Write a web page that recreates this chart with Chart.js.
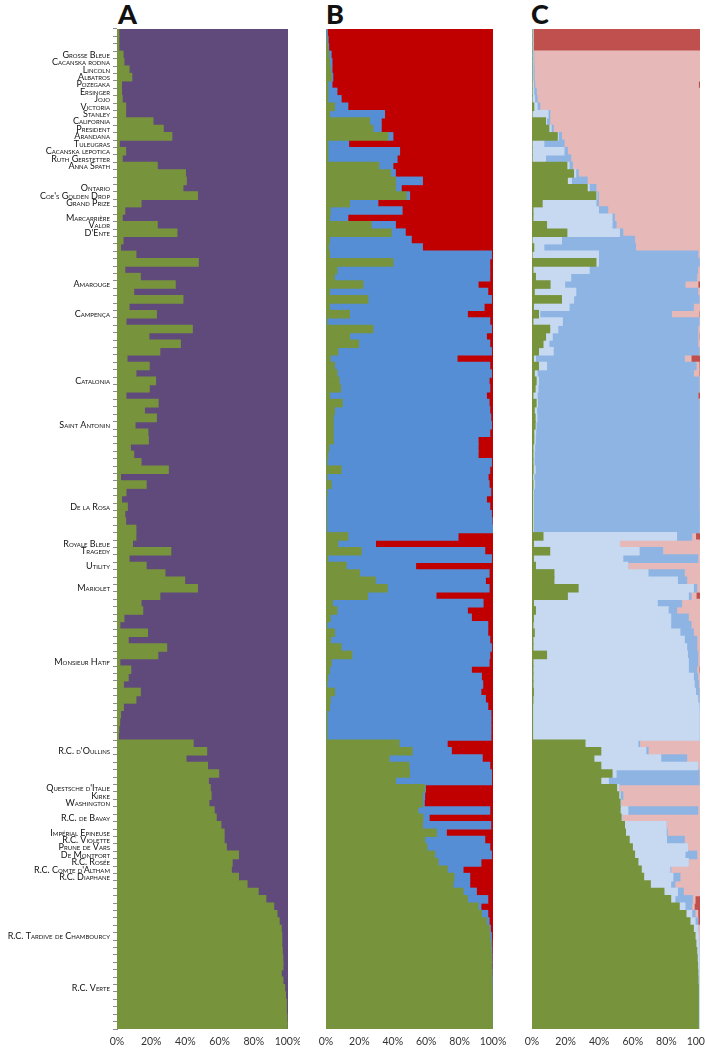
<!DOCTYPE html>
<html>
<head>
<meta charset="utf-8">
<title>Structure bars</title>
<script src="https://cdn.jsdelivr.net/npm/chart.js@4.4.1/dist/chart.umd.min.js"></script>
<style>
  html, body { margin: 0; padding: 0; background: #fff; }
  body { width: 705px; height: 1048px; position: relative; overflow: hidden; }
  canvas { position: absolute; top: 0; }
  .letter { position: absolute; top: 0; font: 900 27px/27px "Lato", sans-serif; color: #111; }
</style>
</head>
<body>
<div class="letter" style="left:118px">A</div>
<div class="letter" style="left:326px">B</div>
<div class="letter" style="left:531px">C</div>
<canvas id="chart-a" width="300" height="1048" style="left:0;width:300px;height:1048px"></canvas>
<canvas id="chart-b" width="215" height="1048" style="left:300px;width:215px;height:1048px"></canvas>
<canvas id="chart-c" width="193" height="1048" style="left:512px;width:193px;height:1048px"></canvas>
<script>
const ROWS = 135;

// rows that carry a cultivar name (index from the top)
const namedRows = [3, 4, 5, 6, 7, 8, 9, 10, 11, 12, 13, 14, 15, 16, 17, 18, 21, 22, 23, 25, 26, 27,
  34, 38, 47, 53, 64, 69, 70, 72, 75, 85, 97, 102, 103, 104, 106, 108, 109, 110, 111, 112, 113, 114, 122, 129];
const namedLabels = ['Grosse Bleue', 'Cacanska rodna', 'Lincoln', 'Albatros', 'Pozegaka', 'Ersinger', 'Jojo',
  'Victoria', 'Stanley', 'California', 'President', 'Arandana', 'Tuleugras', 'Cacanska lepotica',
  'Ruth Gerstetter', 'Anna Spath', 'Ontario', "Coe's Golden Drop", 'Grand Prize', 'Marcarrière', 'Valor',
  "D'Ente", 'Amarouge', 'Campença', 'Catalonia', 'Saint Antonin', 'De la Rosa', 'Royale Bleue', 'Tragedy',
  'Utility', 'Mariolet', 'Monsieur Hatif', "R.C. d'Oullins", "Questsche d'Italie", 'Kirke', 'Washington',
  'R.C. de Bavay', 'Impérial Epineuse', 'R.C. Violette', 'Prune de Vars', 'De Montfort', 'R.C. Rosée',
  "R.C. Comte d'Altham", 'R.C. Diaphane', 'R.C. Tardive de Chambourcy', 'R.C. Verte'];

const xTicks = [0, 20, 40, 60, 80, 100];

// panel A: right edge of the green cluster (%)
const edgeA = [
  1, 1, 1, 3.5, 4, 7, 8.6, 2.6, 2.6, 3,
  5, 5, 21, 27, 32, 1.3, 5, 3, 23.5, 40,
  40.5, 38.5, 47, 14, 4.5, 3, 23.5, 35, 3.5, 2,
  11, 47.5, 4.5, 13.6, 34, 9.7, 38.5, 7, 23, 5.2,
  44, 18.6, 37, 25, 5.8, 18.8, 11, 22.5, 18.8, 5.2,
  24, 16, 23, 10.5, 18, 18.3, 7.8, 9.7, 14, 30,
  2, 17, 5.2, 2.6, 6, 4.5, 5, 11, 11, 9,
  31.4, 7, 17, 28, 39.5, 47, 25, 14, 15, 4,
  1.6, 17.8, 6.5, 29, 23.8, 1.6, 8, 6.5, 3.7, 13.6,
  11, 3.7, 2, 1.5, 1, 0.8, 44.5, 52.4, 40.3, 52.9,
  59.4, 53.4, 54.5, 55, 53.7, 56.8, 58, 60.7, 62.6, 62.6,
  63.9, 71, 67.3, 66.8, 71, 76, 82.5, 87, 91.6, 93.5,
  94.8, 96, 96.3, 96.3, 96.6, 96.9, 97, 96, 97, 98,
  98.5, 99, 99, 99.3, 99.5];

// panel B: end of green, end of blue (%)
const edgeB1 = [
  0, 0.3, 0.8, 1.5, 2, 2.5, 3, 1, 1, 1,
  5, 2, 26, 28, 37, 1, 1, 1, 31.5, 38.5,
  41.5, 41.5, 48, 14, 2.4, 2, 27, 39, 2, 1.5,
  2, 40, 6.5, 5, 22, 2, 25, 2, 14, 0.5,
  28, 14, 19.4, 7, 2.4, 5, 6.5, 7.8, 8.6, 2,
  9.7, 5, 4.3, 4.3, 4.3, 4.3, 1.6, 1, 0.5, 9,
  0.5, 3, 0.5, 0.3, 0.3, 0.3, 0.3, 0.3, 13, 7,
  21, 1, 12, 20, 29.4, 36.6, 24.8, 3.8, 6.5, 2.4,
  0.5, 5, 2.7, 9, 15.4, 3, 2, 1, 0.5, 5,
  2.4, 2, 0.5, 0.5, 0.5, 0.5, 43.7, 51.5, 37.7, 49.6,
  50, 41.5, 59, 57.7, 57.7, 55, 58, 57.7, 66, 59,
  60.4, 65, 67, 72.5, 76.5, 76, 82, 84.6, 91, 93,
  96, 97.6, 98, 98.6, 98.8, 99, 99, 99.2, 99.3, 99.4,
  99.4, 99.5, 99.5, 99.5, 99.5];
const edgeB2 = [
  0.8, 1.2, 1.5, 3, 3.5, 3.5, 4, 3.5, 6.5, 9,
  13, 35, 33, 33, 40, 13.5, 44, 42.5, 40, 41.5,
  57.7, 45, 50, 31, 45.5, 13, 41.5, 47.4, 51, 57.7,
  99, 98, 98, 98, 91, 96.8, 99, 94.6, 84.6, 98,
  99, 96, 98, 99, 78.4, 98, 99, 97.6, 98, 96,
  97.6, 98, 98.6, 99, 98, 91, 91, 91, 99, 98,
  97, 97.6, 98.6, 96, 98, 99, 99.4, 99.7, 79, 29.6,
  95, 99, 53.6, 97.6, 95.4, 97.6, 65.8, 94, 84.6, 87,
  96.8, 96.8, 98, 99, 98, 97.6, 87, 93, 93.8, 92.7,
  95.4, 96.8, 98.7, 98.7, 98.7, 98.7, 72.5, 75, 93.5, 98,
  99, 99, 59.5, 59, 58.8, 98, 61.7, 98.6, 72, 95,
  98, 99, 92.7, 82, 86, 86, 90, 96.8, 92.7, 96.8,
  97.6, 98.4, 99, 99.2, 99.3, 99.4, 99.4, 99.5, 99.6, 99.6,
  99.6, 99.7, 99.7, 99.7, 99.7];

// panel C: end of green, light blue, mid blue, pink (%)
const edgeC1 = [
  0, 0, 0, 0, 0, 0, 0, 0, 0, 0,
  1, 0, 8, 10, 15, 0, 0, 0, 20.7, 24.7,
  21, 32.8, 38, 6, 0.5, 0.5, 8.6, 20.7, 0, 1,
  0, 38, 0.5, 2, 10.7, 1.3, 17.5, 0.8, 3.8, 0.5,
  10.5, 8, 6.5, 3.8, 0.8, 3.8, 1.3, 2.4, 1.8, 0.5,
  2.4, 1.3, 1.8, 1.8, 1, 1, 0.5, 0.5, 0.5, 0.6,
  0.3, 0.5, 0.3, 0.3, 0.3, 0.3, 0.3, 0.3, 6.5, 0.8,
  10.5, 0.8, 2, 13, 13, 27.4, 21, 0.8, 2, 0.8,
  0.5, 1.3, 0.5, 0.5, 8.6, 0.5, 0.5, 0.5, 0.5, 0.8,
  0.5, 0.3, 0.3, 0.3, 0.3, 0.3, 31.5, 40.9, 36.8, 40.9,
  47.6, 40.9, 50.3, 51.6, 52.4, 52.4, 53, 55, 55.6, 57.8,
  59.7, 61, 63, 65, 66.4, 70.4, 78.5, 82.5, 87.6, 91.6,
  94, 96, 97, 97.5, 98, 98.3, 98.5, 98.7, 98.8, 99,
  99, 99, 99, 99, 99];
const edgeC2 = [
  0.5, 0.5, 0.5, 0.5, 0.5, 0.5, 0.5, 0.8, 1, 1.5,
  3, 9.5, 8.6, 11.3, 15.6, 7, 19, 8, 22, 26,
  23.4, 34, 38.6, 38, 39.5, 47.6, 47.6, 52, 17.5, 7,
  39.5, 39.5, 34, 23, 19.4, 26, 24.7, 22, 4.6, 18,
  15.3, 12, 10, 12.6, 2, 8.6, 3, 3.8, 3.5, 3,
  3.2, 2.7, 2.9, 2.4, 2.1, 1.9, 1.5, 1.3, 1.2, 1.9,
  1, 1.5, 0.8, 0.8, 0.8, 0.8, 0.8, 0.8, 86, 52,
  63.7, 54, 57, 69, 86.5, 96, 93, 74.5, 81, 82.5,
  82.5, 88, 90.6, 92, 92.5, 93, 93, 96, 96.5, 97.3,
  98.6, 99.4, 99.5, 99.5, 99.5, 99.5, 63, 67.7, 76.6, 98.6,
  50, 45.4, 51.6, 52.4, 52.8, 57, 53.4, 79.8, 79.8, 80,
  92.5, 91, 93, 82, 83.8, 82.5, 86.5, 85, 91, 95,
  97, 98.6, 99, 99.3, 99.4, 99.5, 99.5, 99.6, 99.6, 99.7,
  99.7, 99.7, 99.7, 99.7, 99.7];
const edgeC3 = [
  0.5, 0.5, 0.5, 1, 1, 1.2, 1.2, 1.5, 2.5, 3,
  4.6, 10.5, 10.5, 12.6, 17.5, 19, 21, 23, 24, 27.4,
  32.8, 38, 39.5, 39.5, 45, 49, 50, 54, 61, 61.6,
  98.7, 99.5, 98.5, 98, 91, 98.6, 99.4, 96, 83, 99.4,
  98.6, 98.6, 98.6, 99.4, 90.6, 97.6, 96, 99.4, 99.4, 98.6,
  99.4, 99.4, 99.4, 99.4, 99.4, 99.4, 99.3, 99.3, 99.3, 99.3,
  99.3, 99.3, 99.4, 99.4, 99.4, 99.5, 99.5, 99.5, 95, 52,
  77.7, 98.6, 57, 90.6, 92, 98, 94.6, 89, 86, 93,
  94.6, 96, 98, 98, 98.6, 98.6, 98, 98.6, 99, 99.4,
  99.4, 99.6, 99.7, 99.7, 99.7, 99.7, 64, 69, 92, 98.6,
  99.4, 99.4, 51.6, 54, 52.8, 98.6, 53.4, 79.8, 80.4, 90.6,
  92.5, 98, 93, 82.5, 88, 85, 90, 95.4, 95, 97,
  98.6, 98.6, 99, 99.3, 99.4, 99.5, 99.5, 99.6, 99.6, 99.7,
  99.7, 99.7, 99.7, 99.7, 99.7];
const edgeC4 = [
  0.5, 0.5, 0.5, 100, 100, 100, 100, 99, 100, 100,
  100, 100, 100, 100, 100, 100, 100, 100, 100, 100,
  100, 100, 100, 100, 100, 100, 100, 100, 100, 100,
  100, 100, 100, 100, 98.7, 100, 100, 100, 99.4, 100,
  100, 99.5, 100, 100, 94.6, 99.4, 99.4, 100, 100, 98.6,
  100, 100, 100, 100, 100, 100, 100, 100, 100, 100,
  100, 100, 100, 100, 100, 100, 100, 100, 97.3, 100,
  100, 100, 100, 100, 100, 100, 97.6, 100, 100, 100,
  100, 100, 100, 100, 100, 100, 99.4, 100, 100, 100,
  100, 100, 100, 100, 100, 100, 100, 100, 100, 100,
  100, 100, 100, 100, 100, 100, 100, 100, 100, 100,
  100, 100, 100, 100, 100, 100, 100, 97, 96.5, 98.6,
  98.6, 100, 100, 100, 100, 100, 100, 100, 100, 100,
  100, 100, 100, 100, 100];

const categories = [];
for (let i = 0; i < ROWS; i++) {
  const k = namedRows.indexOf(i);
  categories.push(k >= 0 ? namedLabels[k] : '');
}

// one floating bar per row, from lo to hi (0 and 100 are the axis ends)
function band(lo, hi, color) {
  return {
    data: categories.map((_, i) => [lo === 0 ? 0 : lo[i], hi === 100 ? 100 : hi[i]]),
    backgroundColor: color,
    borderWidth: 0,
    inflateAmount: 0.6, // overlap neighbours so no light seams show between rows
    grouped: false,
    barPercentage: 1,
    categoryPercentage: 1
  };
}

const family = "'Lato', 'Open Sans', sans-serif";

function xScale() {
  return {
    type: 'linear',
    min: 0,
    max: 100,
    afterBuildTicks: s => { s.ticks = xTicks.map(v => ({ value: v })); },
    ticks: { callback: v => v + '%', color: '#333333', font: { family: family, size: 10.5 }, padding: 6, maxRotation: 0, autoSkip: false },
    grid: { display: false, drawTicks: false, tickLength: 0 },
    border: { display: false },
    afterFit: s => { s.height = 19; s.paddingLeft = 0; s.paddingRight = 0; }
  };
}

function panel(id, datasets, pad, withNames) {
  const yScale = withNames ? {
    offset: true,
    ticks: { autoSkip: false, color: '#111111', font: { family: family, size: 9, weight: 'small-caps' }, padding: 3 },
    grid: { display: true, drawOnChartArea: false, drawTicks: true, tickLength: 4, offset: true, color: '#8c8c8c' },
    border: { display: true, color: '#8c8c8c' },
    afterFit: s => { s.width = 117; }
  } : { display: false, offset: true };

  return new Chart(document.getElementById(id), {
    type: 'bar',
    data: { labels: categories, datasets: datasets },
    options: {
      indexAxis: 'y',
      responsive: false,
      animation: false,
      layout: { padding: pad },
      plugins: { legend: { display: false }, tooltip: { enabled: false } },
      scales: { x: xScale(), y: yScale }
    }
  });
}

panel('chart-a', [
  band(0, edgeA, '#77933c'),
  band(edgeA, 100, '#604a7b')
], { top: 29, left: 0, right: 12, bottom: 0 }, true);

panel('chart-b', [
  band(0, edgeB1, '#77933c'),
  band(edgeB1, edgeB2, '#558ed5'),
  band(edgeB2, 100, '#c00000')
], { top: 29, left: 26, right: 22, bottom: 0 }, false);

panel('chart-c', [
  band(0, edgeC1, '#77933c'),
  band(edgeC1, edgeC2, '#c6d9f1'),
  band(edgeC2, edgeC3, '#8eb4e3'),
  band(edgeC3, edgeC4, '#e6b9b8'),
  band(edgeC4, 100, '#c0504d')
], { top: 29, left: 20, right: 5, bottom: 0 }, false);
</script>
</body>
</html>
